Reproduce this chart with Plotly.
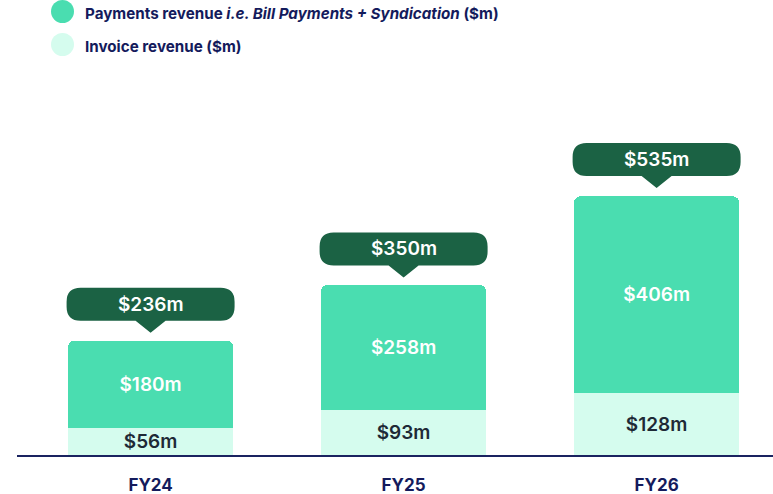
import plotly.graph_objects as go

categories = ["FY24", "FY25", "FY26"]
invoice_revenue = [56, 93, 128]
payments_revenue = [180, 258, 406]
total_revenue = [236, 350, 535]

invoice_labels = [f"${v}m" for v in invoice_revenue]
payments_labels = [f"${v}m" for v in payments_revenue]
total_labels = [f"${v}m" for v in total_revenue]

PAY_COLOR = "#4ADDB0"
INV_COLOR = "#D5FCEE"
CALLOUT = "#1B6244"
NAVY = "#141B5C"
FONT = "Inter"

fig = go.Figure()
fig.add_trace(go.Bar(
    x=categories, y=invoice_revenue, name="Invoice revenue ($m)",
    marker=dict(color=INV_COLOR, line=dict(width=0)), width=0.652,
    text=invoice_labels, textposition="inside", insidetextanchor="middle",
    constraintext="none",
    textfont=dict(family=FONT, size=19, color="#1E2A36", weight=600),
    showlegend=False, hoverinfo="skip",
))
fig.add_trace(go.Bar(
    x=categories, y=payments_revenue, name="Payments revenue",
    marker=dict(color=PAY_COLOR, line=dict(width=0)), width=0.652,
    text=payments_labels, textposition="inside", insidetextanchor="middle",
    constraintext="none",
    textfont=dict(family=FONT, size=19, color="white", weight=600),
    showlegend=False, hoverinfo="skip",
))

callout_path = ("M -70,20 L -15,20 L 0,8 L 15,20 L 70,20 Q 84,20 84,34 L 84,39 "
                "Q 84,53 70,53 L -70,53 Q -84,53 -84,39 L -84,34 Q -84,20 -70,20 Z")
shapes = []
annotations = []
for i, (cat, tot, lab) in enumerate(zip(categories, total_revenue, total_labels)):
    shapes.append(dict(type="path", xref="x", yref="y", xsizemode="pixel", ysizemode="pixel",
                       xanchor=i, yanchor=tot, path=callout_path,
                       fillcolor=CALLOUT, line=dict(width=0), layer="above"))
    annotations.append(dict(x=cat, y=tot, xref="x", yref="y", yshift=36.5, text=lab,
                            showarrow=False, yanchor="middle",
                            font=dict(family=FONT, size=19, color="white", weight=600)))

# Custom legend (plot area: 756 x 340 px)
legend_items = [
    ("Payments revenue <i>i.e. Bill Payments + Syndication</i> ($m)", PAY_COLOR, 443.5),
    ("Invoice revenue ($m)", INV_COLOR, 410.5),
]
for text, color, ypix in legend_items:
    yp = ypix / 340
    shapes.append(dict(type="circle", xref="paper", yref="paper", xsizemode="pixel",
                       ysizemode="pixel", xanchor=45.5 / 756, yanchor=yp,
                       x0=-11.5, x1=11.5, y0=-11.5, y1=11.5,
                       fillcolor=color, line=dict(width=0)))
    annotations.append(dict(x=66 / 756, y=yp, xref="paper", yref="paper", text=text,
                            showarrow=False, xanchor="left", yanchor="middle", yshift=-2,
                            font=dict(family=FONT, size=15.2, color=NAVY, weight=700)))

fig.update_layout(
    width=773, height=494,
    margin=dict(l=17, r=0, t=115, b=39, autoexpand=False),
    barmode="stack", barcornerradius=6,
    plot_bgcolor="white", paper_bgcolor="white",
    shapes=shapes, annotations=annotations,
    showlegend=False,
    xaxis=dict(range=[-0.528, 2.46], showgrid=False, zeroline=False,
               showline=True, linecolor="#1A2360", linewidth=2,
               ticks="", ticklabelstandoff=14, automargin=False,
               tickfont=dict(family=FONT, size=17, color=NAVY, weight=700)),
    yaxis=dict(range=[0, 702], visible=False, showgrid=False, zeroline=False,
               automargin=False),
)

fig.write_html(
    "out.html",
    config={"displayModeBar": False},
    post_script="document.body.style.margin='0';document.body.style.overflow='hidden';",
)
